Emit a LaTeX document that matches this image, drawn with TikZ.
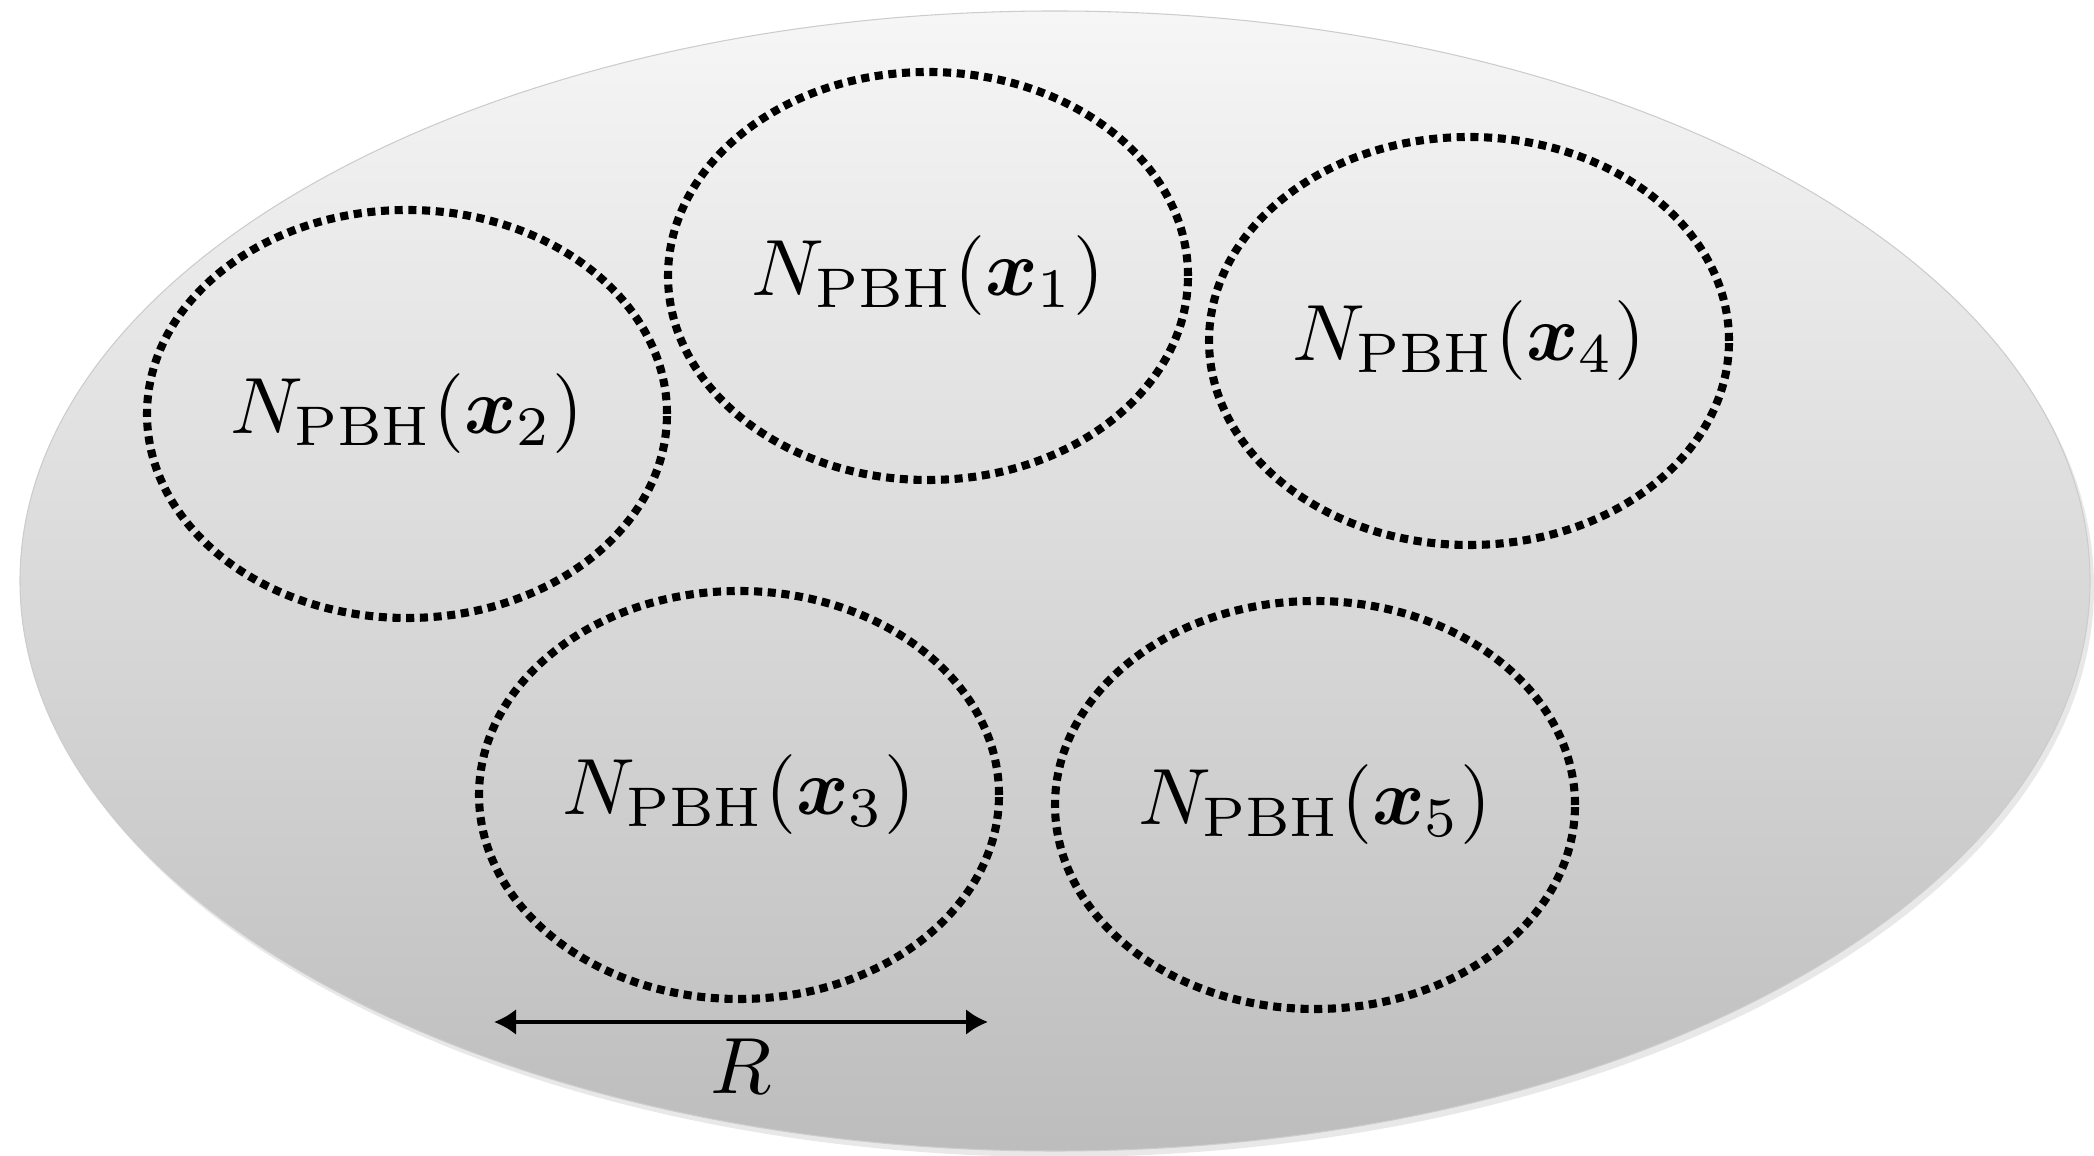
\documentclass[tikz,border=0pt]{standalone}
\usepackage{amsmath,amssymb}
\usepackage{bm}
\usepackage{graphicx}
\usepackage{tikz}
\usetikzlibrary{arrows.meta,calc,positioning,shapes.geometric,shadows}
\usepackage{xcolor}

\newcommand{\grande}[1]{\scalebox{2.27}{#1}}

\begin{document}
\begin{tikzpicture}[
  bolla/.style={ellipse, draw=black, line width=2.3pt, dash pattern=on 2.3pt off 1.6pt,
    minimum width=5.2cm, minimum height=4.08cm, inner sep=0pt},
  regione/.style={ellipse, draw=gray!40, line width=0.3pt,
    top color=gray!7, bottom color=gray!52,
    minimum width=20.7cm, minimum height=11.4cm,
    drop shadow={opacity=0.18, shadow xshift=0.4mm, shadow yshift=-0.6mm}}]
\useasboundingbox (0,0) rectangle (20.94,11.55);
% Regione totale con sfumatura
\node[regione] (reg) at (10.55,5.74) {};
% Cinque regioni di raggio R
\foreach \nm/\px/\py/\ix in {b1/9.28/8.79/1, b2/4.07/7.41/2, b3/7.39/3.60/3, b4/14.69/8.14/4, b5/13.15/3.50/5}{
  \node[bolla] (\nm) at (\px,\py) {\grande{$N_{\mathrm{PBH}}(\bm{x}_{\ix})$}};
}
% Freccia R
\coordinate (rl) at (4.94,1.33);
\coordinate (rr) at (9.88,1.33);
\draw[{Latex[length=2.2mm,width=2.6mm]}-{Latex[length=2.2mm,width=2.6mm]},line width=1.1pt] (rl) -- (rr)
  node[midway,below=1pt]{\grande{$R$}};
\end{tikzpicture}
\end{document}
